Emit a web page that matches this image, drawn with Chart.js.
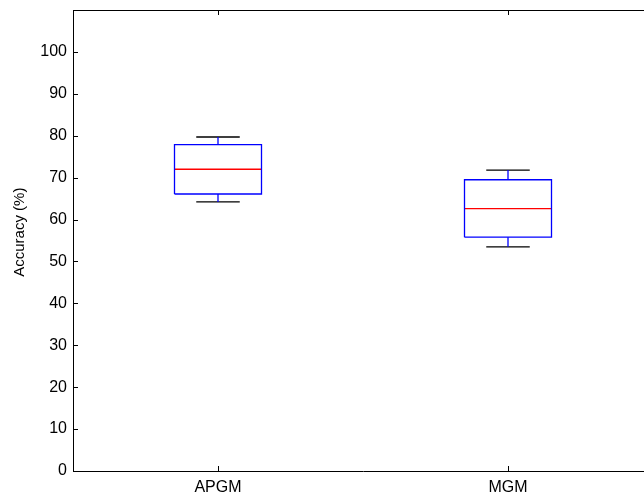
<!DOCTYPE html>
<html><head><meta charset="utf-8">
<script src="https://cdn.jsdelivr.net/npm/chart.js@4"></script>
<style>
html,body{margin:0;padding:0;background:#fff;overflow:hidden}
#wrap{width:644px;height:500px;overflow:hidden}
#c{display:block}
</style>
</head><body>
<div id="wrap"><canvas id="c" width="700" height="500"></canvas></div>
<script>
const categories = ['APGM', 'MGM'];
const whiskerLow  = [64.2, 53.5];
const q1          = [66.1, 55.8];
const median      = [72.0, 62.6];
const q3          = [77.9, 69.5];
const whiskerHigh = [79.7, 71.8];
const yTicks = [0, 10, 20, 30, 40, 50, 60, 70, 80, 90, 100];
const yMin = 0, yMax = 110;
const yTitle = 'Accuracy (%)';

const BOX_HALF = 0.15, CAP_HALF = 0.075;
const FONT = '"Liberation Sans", Arial, Helvetica, sans-serif';

function seg(arr, a, b) { arr.push(a, b, {x: b.x, y: null}); }

const boxPts = [], medPts = [], whiskPts = [], capPts = [];
categories.forEach((c, i) => {
  const x = i + 1;
  boxPts.push({x: x - BOX_HALF, y: q1[i]}, {x: x + BOX_HALF, y: q1[i]},
              {x: x + BOX_HALF, y: q3[i]}, {x: x - BOX_HALF, y: q3[i]},
              {x: x - BOX_HALF, y: q1[i]}, {x: x, y: null});
  seg(medPts, {x: x - BOX_HALF, y: median[i]}, {x: x + BOX_HALF, y: median[i]});
  seg(whiskPts, {x: x, y: q3[i]}, {x: x, y: whiskerHigh[i]});
  seg(whiskPts, {x: x, y: q1[i]}, {x: x, y: whiskerLow[i]});
  seg(capPts, {x: x - CAP_HALF, y: whiskerHigh[i]}, {x: x + CAP_HALF, y: whiskerHigh[i]});
  seg(capPts, {x: x - CAP_HALF, y: whiskerLow[i]}, {x: x + CAP_HALF, y: whiskerLow[i]});
});

function ds(data, color) {
  return {type: 'line', data, borderColor: color, borderWidth: 1.3, pointRadius: 0,
          showLine: true, spanGaps: false, fill: false, tension: 0};
}

const frame = {
  id: 'frame',
  afterDatasetsDraw(chart) {
    const {ctx, chartArea: a, scales: {x, y}} = chart;
    ctx.save();
    ctx.strokeStyle = '#000';
    ctx.lineWidth = 1;
    ctx.beginPath();
    ctx.moveTo(a.left, a.top + 0.5); ctx.lineTo(a.right, a.top + 0.5);
    ctx.moveTo(a.right - 0.5, a.top); ctx.lineTo(a.right - 0.5, a.bottom);
    yTicks.forEach(v => {
      const py = Math.round(y.getPixelForValue(v)) + 0.5;
      ctx.moveTo(a.left, py); ctx.lineTo(a.left + 5, py);
      ctx.moveTo(a.right, py); ctx.lineTo(a.right - 5, py);
    });
    categories.forEach((c, i) => {
      const px = Math.round(x.getPixelForValue(i + 1)) + 0.5;
      ctx.moveTo(px, a.bottom); ctx.lineTo(px, a.bottom - 5);
      ctx.moveTo(px, a.top); ctx.lineTo(px, a.top + 5);
    });
    ctx.stroke();
    ctx.restore();
  }
};

function zeroPad(s) { s.paddingTop = 0; s.paddingBottom = 0; s.paddingLeft = 0; s.paddingRight = 0; }

new Chart(document.getElementById('c'), {
  type: 'line',
  data: {
    datasets: [
      ds(boxPts, '#0000ff'),
      ds(whiskPts, '#0000ff'),
      ds(capPts, '#000000'),
      ds(medPts, '#ff0000')
    ]
  },
  options: {
    responsive: false,
    animation: false,
    layout: {padding: {top: 10, right: 47, left: 0, bottom: 0}},
    plugins: {legend: {display: false}, tooltip: {enabled: false}},
    scales: {
      x: {
        type: 'linear', min: 0.5, max: 2.5,
        afterBuildTicks: s => { s.ticks = categories.map((c, i) => ({value: i + 1})); },
        afterFit: s => { s.height = 29; zeroPad(s); },
        ticks: {
          callback: v => categories[v - 1] || '',
          color: '#000', font: {family: FONT, size: 16}, padding: 7, maxRotation: 0
        },
        grid: {display: false, drawTicks: false},
        border: {display: true, color: '#000', width: 1}
      },
      y: {
        type: 'linear', min: yMin, max: yMax,
        afterBuildTicks: s => { s.ticks = yTicks.map(v => ({value: v})); },
        afterFit: s => { s.width = 73; zeroPad(s); },
        ticks: {color: '#000', font: {family: FONT, size: 16}, padding: 6},
        grid: {display: false, drawTicks: false},
        border: {display: true, color: '#000', width: 1},
        title: {display: true, text: '\u00A0\u00A0\u00A0\u00A0' + yTitle, color: '#000',
                font: {family: FONT, size: 15}, padding: {top: 10.5, bottom: 0}}
      }
    }
  },
  plugins: [frame]
});
</script>
</body></html>
